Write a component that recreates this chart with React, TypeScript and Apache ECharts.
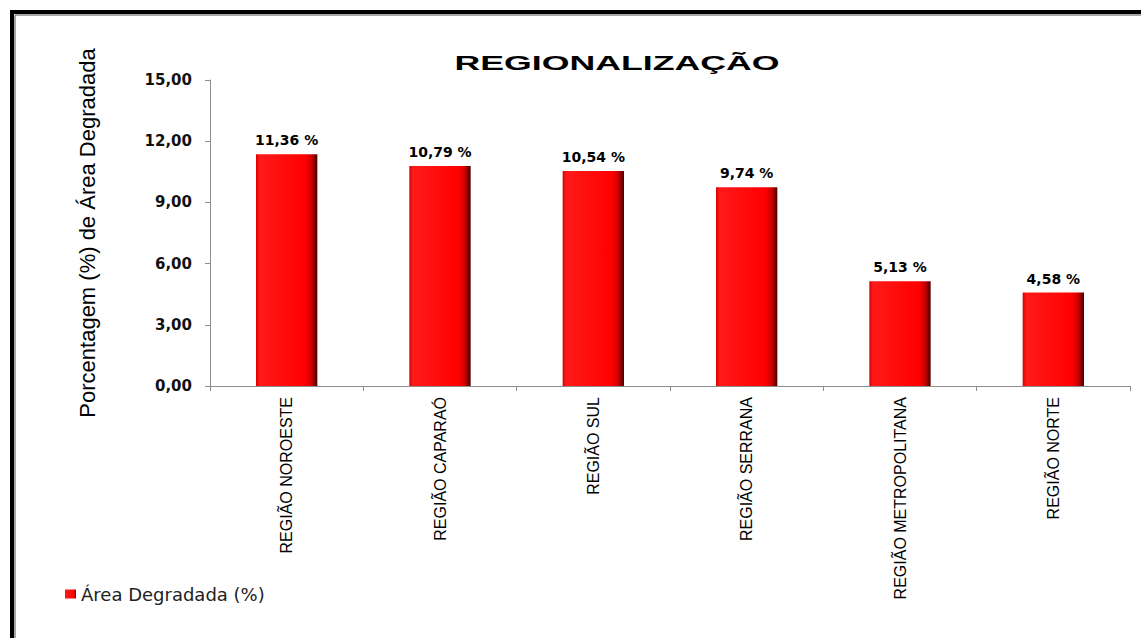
import React, { useEffect, useRef } from "react";
import * as echarts from "echarts";

const categories = [
  "REGIÃO NOROESTE",
  "REGIÃO CAPARAÓ",
  "REGIÃO SUL",
  "REGIÃO SERRANA",
  "REGIÃO METROPOLITANA",
  "REGIÃO NORTE",
];
const values = [11.36, 10.79, 10.54, 9.74, 5.13, 4.58];
const seriesName = "Área Degradada (%)";
const titleText = "REGIONALIZAÇÃO";
const yAxisName = "Porcentagem (%) de Área Degradada";

const fmt = (v: number) => v.toFixed(2).replace(".", ",");

export default function App() {
  const ref = useRef<HTMLDivElement>(null);
  useEffect(() => {
    if (!ref.current) return;
    const chart = echarts.init(ref.current, null, { renderer: "svg" });
    chart.setOption({
      animation: false,
      backgroundColor: "#ffffff",
      grid: { left: 210, right: 11, top: 80, bottom: 252, containLabel: false },
      legend: {
        show: true,
        left: 60,
        top: 580,
        itemWidth: 11,
        itemHeight: 9,
        itemGap: 6,
        icon: "rect",
        textStyle: { fontFamily: "DejaVu Sans", fontSize: 18, color: "#222" },
        data: [seriesName],
      },
      xAxis: {
        type: "category",
        data: categories,
        axisLine: { lineStyle: { color: "#8c8c8c", width: 1 } },
        axisTick: { show: true, alignWithLabel: false, length: 5, lineStyle: { color: "#8c8c8c" } },
        axisLabel: {
          rotate: 90,
          interval: 0,
          margin: 11,
          fontFamily: "Liberation Sans",
          fontSize: 16,
          color: "#000",
        },
      },
      yAxis: {
        type: "value",
        min: 0,
        max: 15,
        interval: 3,
        name: yAxisName,
        nameLocation: "middle",
        nameRotate: 90,
        nameGap: 112,
        nameTextStyle: { fontFamily: "Liberation Sans", fontSize: 22, color: "#000" },
        axisLine: { show: true, lineStyle: { color: "#8c8c8c", width: 1 } },
        axisTick: { show: true, length: 5, lineStyle: { color: "#8c8c8c" } },
        splitLine: { show: false },
        axisLabel: {
          margin: 18,
          fontFamily: "DejaVu Sans",
          fontWeight: "bold",
          fontSize: 15,
          color: "#111",
          formatter: (v: number) => fmt(v),
        },
      },
      series: [
        {
          name: seriesName,
          type: "bar",
          data: values,
          barWidth: "40%",
          itemStyle: {
            color: new echarts.graphic.LinearGradient(0, 0, 1, 0, [
              { offset: 0, color: "#d80000" },
              { offset: 0.06, color: "#ff1a1a" },
              { offset: 0.8, color: "#ff0000" },
              { offset: 0.9, color: "#d00000" },
              { offset: 1, color: "#4a0000" },
            ]),
          },
          label: {
            show: true,
            position: "top",
            distance: 7,
            fontFamily: "DejaVu Sans",
            fontWeight: "bold",
            fontSize: 14,
            color: "#000",
            formatter: (p: any) => fmt(p.value) + " %",
          },
        },
      ],
      graphic: [
        {
          type: "line",
          shape: { x1: 12, y1: 10, x2: 12, y2: 638 },
          style: { stroke: "#000", lineWidth: 4 },
        },
        {
          type: "line",
          shape: { x1: 10, y1: 12, x2: 1141, y2: 12 },
          style: { stroke: "#000", lineWidth: 4 },
        },
        {
          type: "line",
          shape: { x1: 15, y1: 15, x2: 15, y2: 638 },
          style: { stroke: "#8a8a8a", lineWidth: 1.5 },
        },
        {
          type: "line",
          shape: { x1: 15, y1: 15, x2: 1141, y2: 15 },
          style: { stroke: "#8a8a8a", lineWidth: 1.5 },
        },
        {
          type: "text",
          x: 617,
          y: 62,
          scaleX: 1.7,
          style: {
            text: titleText,
            fontFamily: "Liberation Sans",
            fontWeight: "bold",
            fontSize: 21,
            fill: "#000",
            align: "center",
            verticalAlign: "middle",
          },
        },
      ],
    });
    return () => chart.dispose();
  }, []);
  return (
    <div
      ref={ref}
      style={{ position: "fixed", left: 0, top: 0, width: 1141, height: 638 }}
    />
  );
}
